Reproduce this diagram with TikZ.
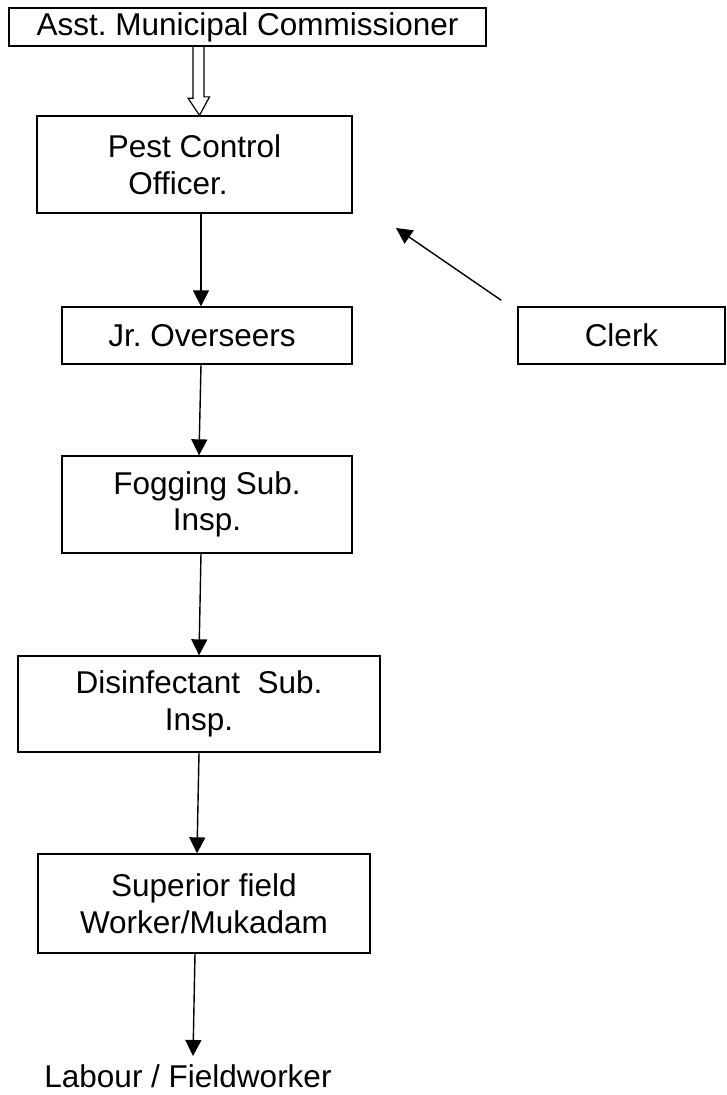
\documentclass[tikz,border=0pt]{standalone}
\usepackage{fontspec}
\setmainfont{Liberation Sans}
\usetikzlibrary{arrows.meta,calc}
\begin{document}
\frenchspacing
\begin{tikzpicture}[x=1pt,y=-1pt,
  box/.style={draw,line width=1.3pt,inner sep=0pt,align=center,font=\fontsize{31.5}{36.5}\selectfont\frenchspacing},
  plain/.style={inner sep=0pt,font=\fontsize{31.5}{36.5}\selectfont\frenchspacing},
  conn/.style={line width=1.4pt,-{Triangle[length=16pt,width=16pt]}},
  hollow/.style={line width=1.2pt,line join=miter},
]
\useasboundingbox (0,0) rectangle (726,1095);
\node[box,minimum width=477pt,minimum height=38pt] (amc) at (247.5,27) {Asst. Municipal Commissioner};
\node[box,minimum width=315pt,minimum height=97pt] (pco) at (194.5,164.5) {Pest Control\\Officer.\hspace*{33pt}};
\node[box,minimum width=290pt,minimum height=57pt] (jro) at (207,335.5) {Jr. Overseers\hspace*{10pt}};
\node[box,minimum width=207pt,minimum height=57pt] (clerk) at (621.5,335.5) {Clerk};
\node[box,minimum width=290pt,minimum height=97pt] (fog) at (207,504.5) {Fogging Sub.\\Insp.};
\node[box,minimum width=362pt,minimum height=96pt] (dis) at (199,704) {Disinfectant\ \ Sub.\\Insp.};
\node[box,minimum width=332pt,minimum height=99pt] (sup) at (204,903.5) {Superior field\\Worker/Mukadam};
\node[plain,anchor=base] (lab) at (188,1087) {Labour / Fieldworker};
\coordinate (clerkend) at (396,228);

% hollow block arrow
\draw[hollow] ($(amc.south)+(-54.5,0)$) -- ++(0,51.5) -- ++(-5,0) -- ($(pco.north)+(5,0)$) -- ++(10,-18.5) -- ++(-5.5,0) -- ++(0,-51.5);

\draw[conn] ($(pco.south)+(6.5,0)$) -- ($(jro.north)+(-6,0)$);
\draw[conn] ($(jro.south)+(-6,0)$) -- ($(fog.north)+(-8,0)$);
\draw[conn] ($(fog.south)+(-6,0)$) -- ($(dis.north)+(0,0)$);
\draw[conn] ($(dis.south)+(0,0)$) -- ($(sup.north)+(-7,0)$);
\draw[conn] ($(sup.south)+(-9,0)$) -- ($(lab.base)+(5,-31)$);
\draw[conn] ($(clerk.north west)+(-16,-6)$) -- (clerkend);
\end{tikzpicture}
\end{document}
